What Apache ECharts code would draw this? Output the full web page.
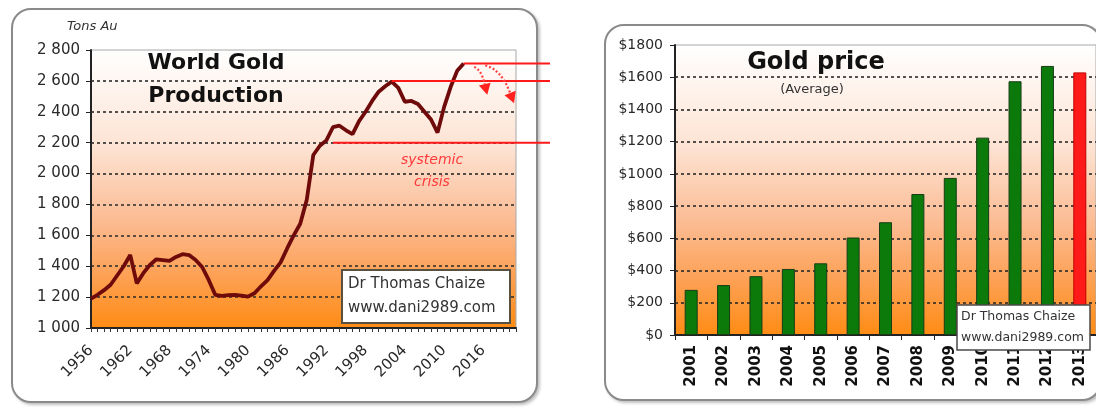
<!DOCTYPE html>
<html><head><meta charset="utf-8">
<script src="https://cdn.jsdelivr.net/npm/echarts@6/dist/echarts.min.js"></script>
<style>
html,body{margin:0;padding:0;background:#fff;width:1096px;height:410px;overflow:hidden;}
.panel{position:absolute;border:2px solid #8a8a8a;border-radius:20px;background:#fff;box-shadow:2px 2px 3px rgba(0,0,0,0.25);}
#chart{position:absolute;left:0;top:0;width:1096px;height:410px;}
</style></head><body>
<div class="panel" style="left:11px;top:8px;width:523px;height:391px;"></div>
<div class="panel" style="left:604px;top:24px;width:494px;height:373px;"></div>
<div id="chart"></div>
<script>
// ---- data ----
const prodYears = ['1956','1957','1958','1959','1960','1961','1962','1963','1964','1965','1966','1967','1968','1969','1970','1971','1972','1973','1974','1975','1976','1977','1978','1979','1980','1981','1982','1983','1984','1985','1986','1987','1988','1989','1990','1991','1992','1993','1994','1995','1996','1997','1998','1999','2000','2001','2002','2003','2004','2005','2006','2007','2008','2009','2010','2011','2012','2013','2014','2015','2016','2017','2018','2019','2020','2021'];
const prodValues = [1190,1215,1245,1280,1340,1400,1473,1289,1355,1408,1445,1440,1435,1460,1478,1472,1440,1395,1311,1215,1208,1213,1215,1210,1203,1225,1270,1310,1370,1425,1515,1600,1675,1830,2120,2180,2215,2300,2310,2280,2255,2340,2400,2470,2530,2565,2595,2555,2465,2470,2450,2400,2350,2265,2430,2560,2665,2712];
const priceYears = ['2001','2002','2003','2004','2005','2006','2007','2008','2009','2010','2011','2012','2013'];
const priceValues = [280,310,365,410,445,605,700,875,975,1225,1575,1670,1630];
const redLevels = [2712,2600,2200];
const redStartYears = ['2013','2002','1993'];
const arrowStarts = [[2014.6,2690],[2016.3,2700]];
const arrowEnds = [[2016.6,2510],[2020.7,2455]];

const FONT = 'DejaVu Sans';
function thousands(v){ return v>=1000 ? Math.floor(v/1000)+' '+String(v%1000).padStart(3,'0') : String(v); }
function grad(){
  return new echarts.graphic.LinearGradient(0,0,0,1,[
    {offset:0,color:'#ffffff'},{offset:0.35,color:'#fde3d3'},{offset:0.6,color:'#fbbd96'},
    {offset:0.8,color:'#fda258'},{offset:1,color:'#ff8c14'}]);
}
const chart = echarts.init(document.getElementById('chart'), null, {renderer:'canvas'});
const dashed = {show:true, showMinLine:false, showMaxLine:false, lineStyle:{color:'#2a2a2a', type:[3,3], width:1.6}};
chart.setOption({
  animation:false,
  textStyle:{fontFamily:FONT},
  grid:[
    {left:91, top:50, width:425, height:278, show:true, backgroundColor:grad(), borderColor:'#a8a8a8', borderWidth:1},
    {left:675, top:45, width:425, height:290, show:true, backgroundColor:grad(), borderColor:'#a8a8a8', borderWidth:1}
  ],
  xAxis:[
    {gridIndex:0, type:'category', data:prodYears, boundaryGap:false,
     axisLine:{lineStyle:{color:'#222', width:2}},
     axisTick:{show:true, interval:0, length:4, lineStyle:{color:'#333'}},
     axisLabel:{interval:5, rotate:45, margin:20, fontSize:15, color:'#2a2a2a', fontFamily:FONT},
     splitLine:{show:false}},
    {gridIndex:1, type:'category', data:priceYears,
     axisLine:{lineStyle:{color:'#222', width:2}},
     axisTick:{show:true, length:5, lineStyle:{color:'#222'}},
     axisLabel:{rotate:90, margin:10, fontSize:15, fontWeight:'bold', color:'#111', fontFamily:FONT},
     splitLine:{show:false}}
  ],
  yAxis:[
    {gridIndex:0, type:'value', min:1000, max:2800, interval:200,
     axisLine:{show:true, lineStyle:{color:'#222', width:2}},
     axisTick:{show:true, length:5, lineStyle:{color:'#222'}},
     axisLabel:{formatter:thousands, fontSize:15, color:'#2a2a2a', margin:11, fontFamily:FONT},
     splitLine:dashed},
    {gridIndex:1, type:'value', min:0, max:1800, interval:200,
     axisLine:{show:true, lineStyle:{color:'#222', width:2}},
     axisTick:{show:true, length:5, lineStyle:{color:'#222'}},
     axisLabel:{formatter:v=>'$'+v, fontSize:14, color:'#2a2a2a', margin:12, fontFamily:FONT},
     splitLine:dashed}
  ],
  series:[
    {type:'line', xAxisIndex:0, yAxisIndex:0, data:prodValues, showSymbol:false, z:5,
     lineStyle:{color:'#6e0a0a', width:3.8}},
    {type:'bar', xAxisIndex:1, yAxisIndex:1, barWidth:13, z:5,
     itemStyle:{color:'#0b7a0b', borderColor:'#163d16', borderWidth:1},
     data:priceValues.map((v,i)=> i===priceValues.length-1 ? {value:v, itemStyle:{color:'#ff1a1a', borderColor:'#c00000'}} : v)}
  ]
});

// helpers for annotations, through the axes
function px(year, value){
  const idx = year - 1956, i0 = Math.floor(idx), f = idx - i0;
  const a = chart.convertToPixel({xAxisIndex:0, yAxisIndex:0}, [i0, value]);
  const b = chart.convertToPixel({xAxisIndex:0, yAxisIndex:0}, [i0+1, value]);
  return [a[0] + (b[0]-a[0])*f, a[1]];
}
const g = [];
const gridRight = chart.convertToPixel({xAxisIndex:0, yAxisIndex:0}, [prodYears.length-1, 1000])[0];
redLevels.forEach((lv,i)=>{
  const p = chart.convertToPixel({xAxisIndex:0, yAxisIndex:0}, [redStartYears[i], lv]);
  g.push({type:'line', z:100, shape:{x1:p[0], y1:p[1], x2:gridRight+34, y2:p[1]}, style:{stroke:'#ff1a1a', lineWidth:2}});
});
arrowStarts.forEach((s,i)=>{
  const S = px(s[0], s[1]), E = px(arrowEnds[i][0], arrowEnds[i][1]);
  const C = [S[0] + (E[0]-S[0])*0.55, S[1] + (E[1]-S[1])*0.1];
  let dx = E[0]-C[0], dy = E[1]-C[1]; const L = Math.hypot(dx,dy); dx/=L; dy/=L;
  const B = [E[0]-dx*11, E[1]-dy*11];
  g.push({type:'bezierCurve', z:100, shape:{x1:S[0], y1:S[1], x2:B[0], y2:B[1], cpx1:C[0], cpy1:C[1]},
          style:{stroke:'#ff4040', lineWidth:2.2, lineDash:[2,2], fill:null}});
  g.push({type:'polygon', z:100, shape:{points:[[E[0],E[1]],[B[0]-dy*6,B[1]+dx*6],[B[0]+dy*6,B[1]-dx*6]]}, style:{fill:'#ff2020'}});
});
function txt(x,y,text,font,fill,align){
  return {type:'text', z:110, x:x, y:y, style:{text:text, font:font, fill:fill, align:align||'left', verticalAlign:'middle'}};
}
g.push(txt(67,27,'Tons Au','italic 13px "DejaVu Sans"','#333'));
g.push(txt(216,63,'World Gold','bold 22px "DejaVu Sans"','#111','center'));
g.push(txt(216,96,'Production','bold 22px "DejaVu Sans"','#111','center'));
g.push(txt(432,160,'systemic','italic 14px "DejaVu Sans"','#ff3a3a','center'));
g.push(txt(432,182,'crisis','italic 14px "DejaVu Sans"','#ff3a3a','center'));
g.push({type:'rect', z:105, shape:{x:342, y:270, width:168, height:53}, style:{fill:'#fff', stroke:'#5a5040', lineWidth:2}});
g.push(txt(348,284,'Dr Thomas Chaize','15px "DejaVu Sans"','#333'));
g.push(txt(348,308,'www.dani2989.com','15px "DejaVu Sans"','#333'));
g.push(txt(816,63,'Gold price','bold 24px "DejaVu Sans"','#111','center'));
g.push(txt(812,90,'(Average)','13px "DejaVu Sans"','#333','center'));
g.push({type:'rect', z:105, shape:{x:957, y:305, width:133, height:45}, style:{fill:'#fff', stroke:'#4a4a4a', lineWidth:1.5}});
g.push(txt(961,317,'Dr Thomas Chaize','12.5px "DejaVu Sans"','#333'));
g.push(txt(961,338,'www.dani2989.com','12.5px "DejaVu Sans"','#333'));
chart.setOption({graphic:g});
</script>
</body></html>
